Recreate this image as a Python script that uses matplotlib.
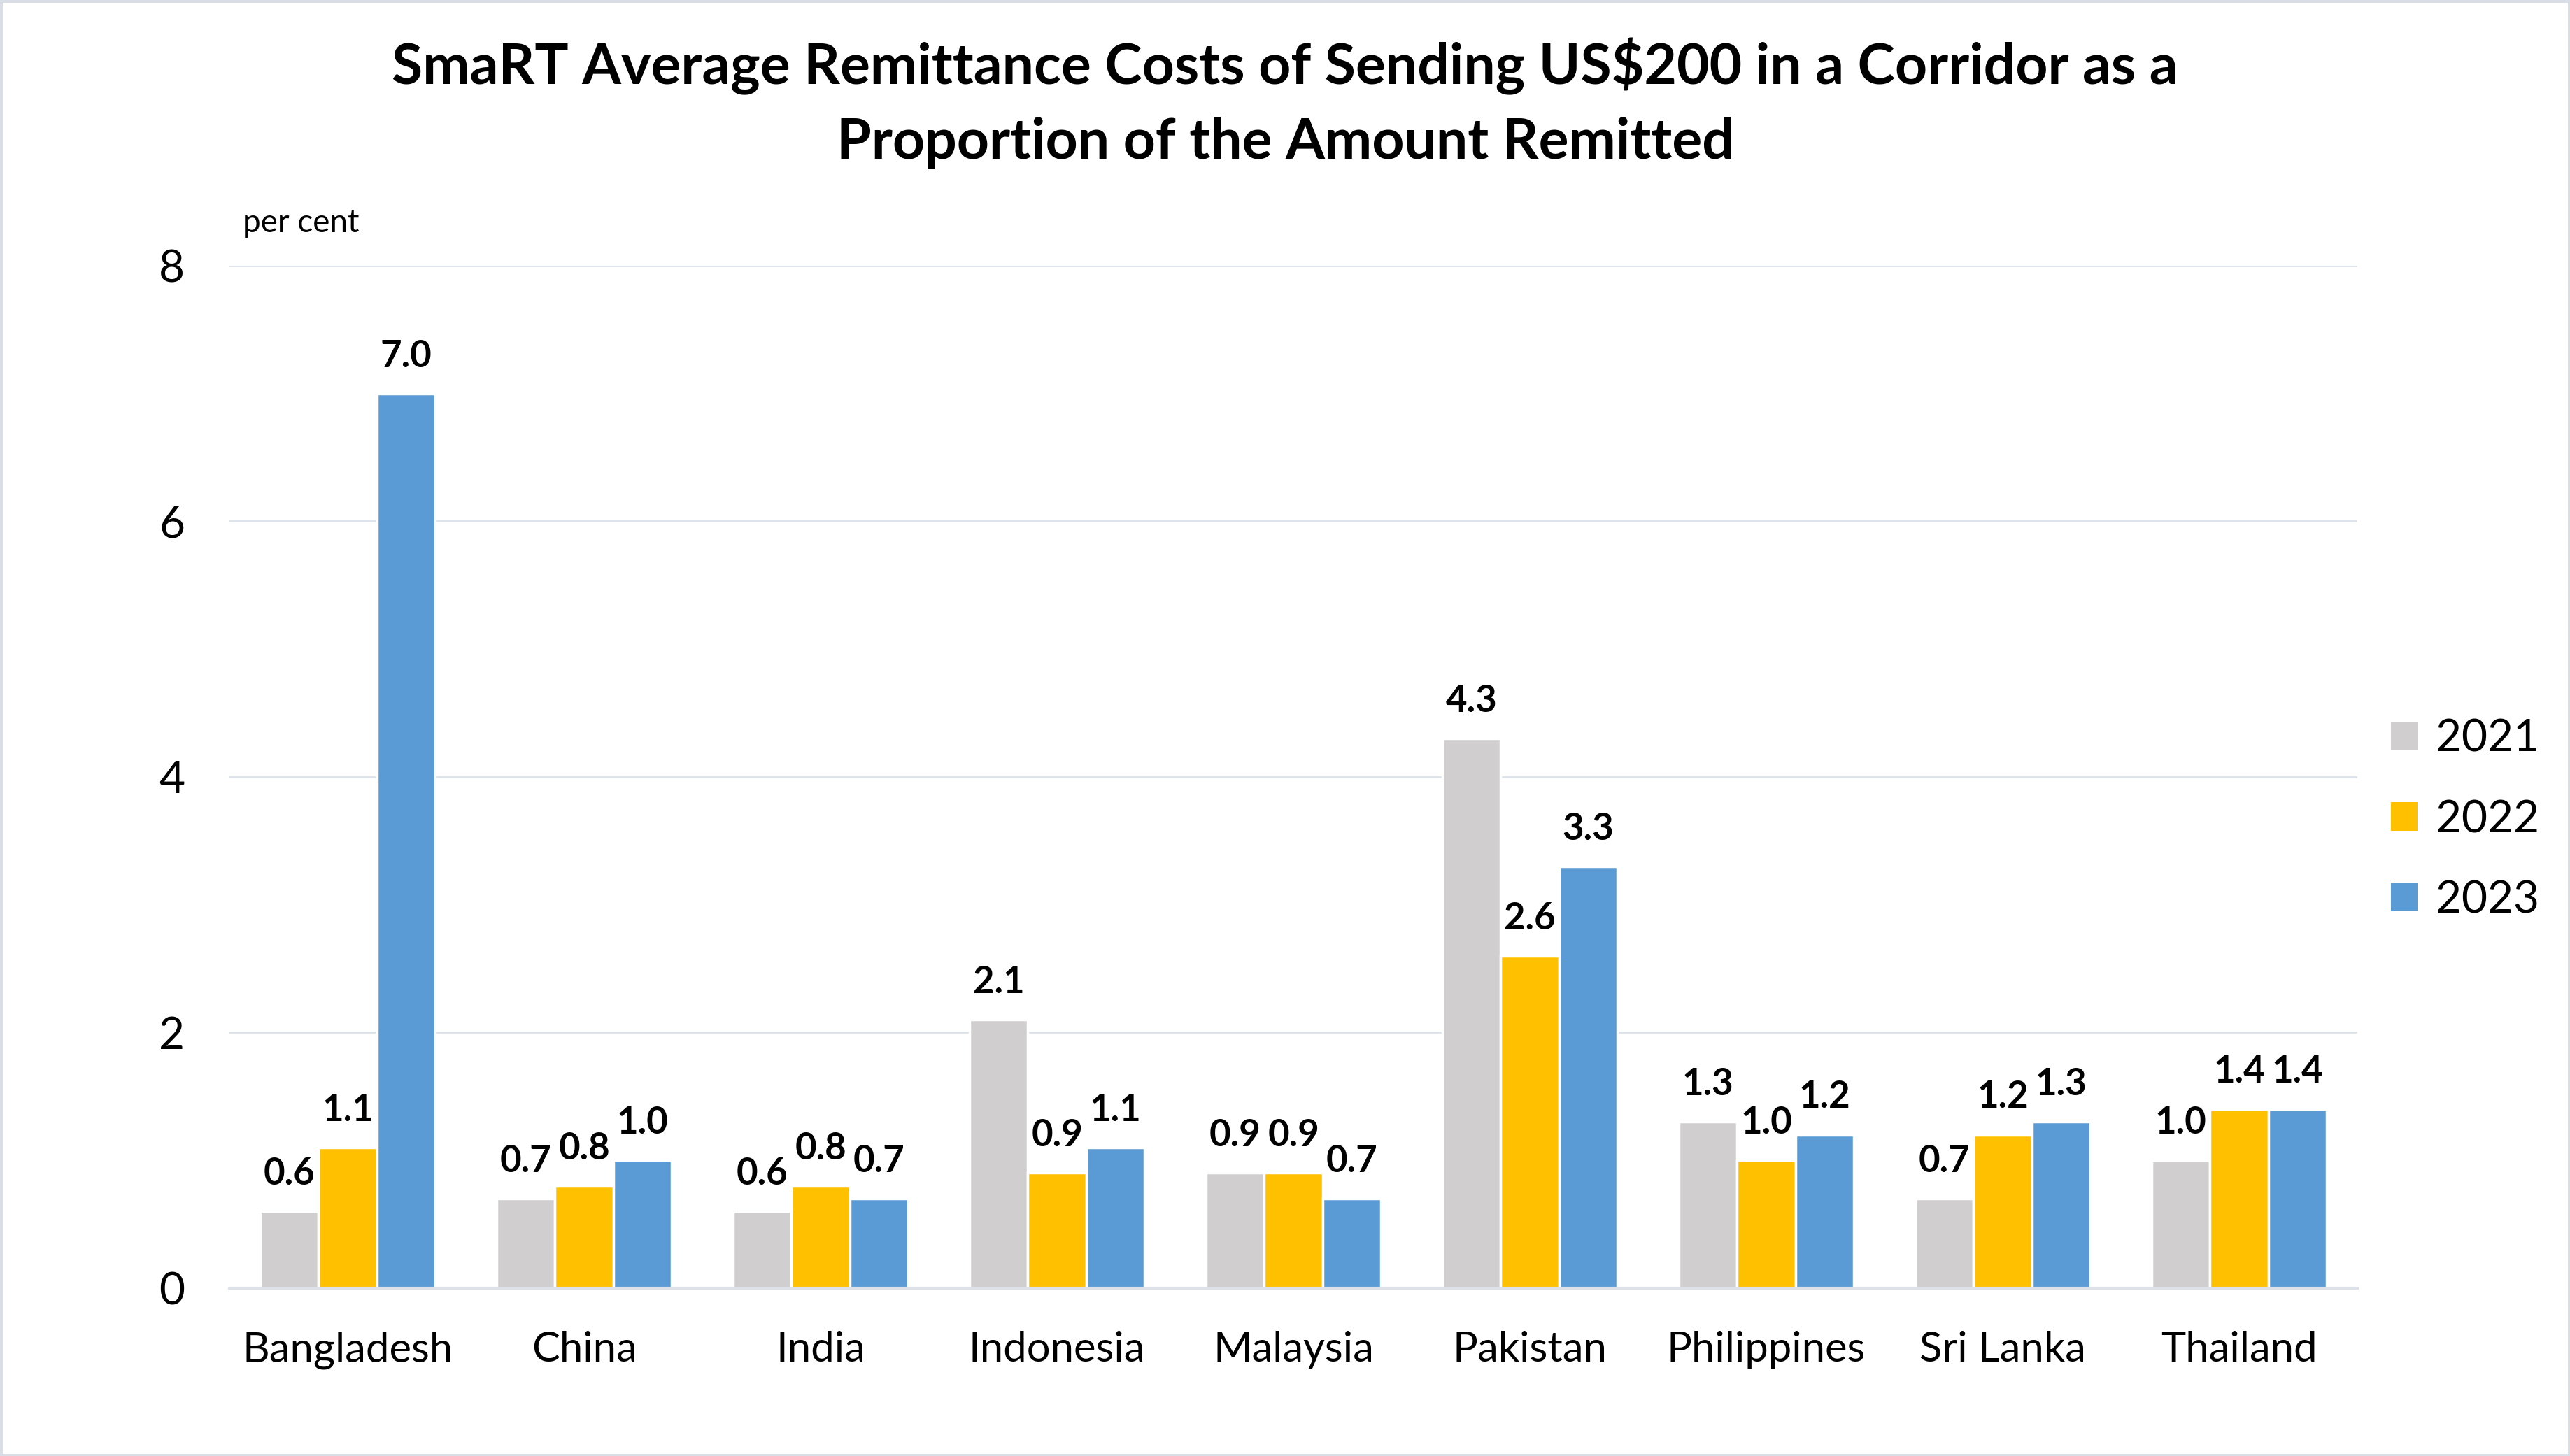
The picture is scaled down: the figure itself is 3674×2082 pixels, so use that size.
import matplotlib.pyplot as plt
import numpy as np
from matplotlib.patches import Rectangle, Patch

plt.rcParams['font.family'] = ['Lato', 'DejaVu Sans']

countries = ['Bangladesh', 'China', 'India', 'Indonesia', 'Malaysia',
             'Pakistan', 'Philippines', 'Sri Lanka', 'Thailand']
years = ['2021', '2022', '2023']
v2021 = [0.6, 0.7, 0.6, 2.1, 0.9, 4.3, 1.3, 0.7, 1.0]
v2022 = [1.1, 0.8, 0.8, 0.9, 0.9, 2.6, 1.0, 1.2, 1.4]
v2023 = [7.0, 1.0, 0.7, 1.1, 0.7, 3.3, 1.2, 1.3, 1.4]
colors = ['#D0CECE', '#FFC000', '#5B9BD5']

fig = plt.figure(figsize=(36.74, 20.82), dpi=100)
ax = fig.add_axes([0.0893, 0.1153, 0.828, 0.7022])

x = np.arange(len(countries))
w = 0.247
for i, (vals, c) in enumerate(zip([v2021, v2022, v2023], colors)):
    bars = ax.bar(x + (i - 1) * w, vals, w, color=c, edgecolor='white',
                  linewidth=2.5, zorder=3)
    for b, v in zip(bars, vals):
        ax.annotate(f'{v:.1f}', (b.get_x() + b.get_width() / 2, v),
                    xytext=(0, 21), textcoords='offset points',
                    ha='center', va='bottom', fontsize=38, fontweight='bold')

ax.set_xlim(-0.5, len(countries) - 0.5)
ax.set_ylim(0, 8)
ax.set_yticks([0, 2, 4, 6, 8])
ax.set_xticks(x)
ax.set_xticklabels(countries)
ax.tick_params(axis='y', length=0, labelsize=46, pad=46)
ax.tick_params(axis='x', length=0, labelsize=43, pad=44)
ax.grid(axis='y', color='#DDE2EA', linewidth=2, zorder=0)
for s in ['left', 'right', 'top']:
    ax.spines[s].set_visible(False)
ax.spines['bottom'].set_color('#DDE2EA')
ax.spines['bottom'].set_linewidth(3)
ax.spines['bottom'].set_zorder(4)

fig.text(0.5, 0.974, 'SmaRT Average Remittance Costs of Sending US$200 in a Corridor as a\nProportion of the Amount Remitted',
         ha='center', va='top', fontsize=58, fontweight='bold', linespacing=1.52)
fig.text(0.0945, 0.847, 'per cent', ha='left', va='center', fontsize=33)

handles = [Patch(facecolor=c) for c in colors]
fig.legend(handles, years, loc='center left', bbox_to_anchor=(0.9147, 0.437),
           frameon=False, fontsize=46, handlelength=0.6, handleheight=0.6,
           handletextpad=0.4, labelspacing=0.9)

fig.add_artist(Rectangle((0, 0), 1, 1, transform=fig.transFigure, fill=False,
                         edgecolor='#D9DEE6', linewidth=5))

fig.savefig('out.png', dpi=100)
